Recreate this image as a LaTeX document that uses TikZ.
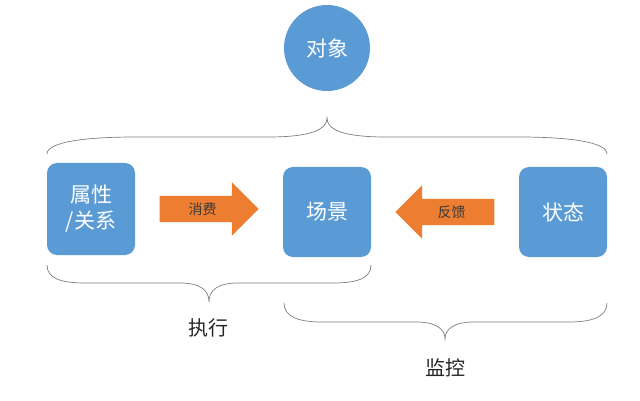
\documentclass[tikz,border=0pt]{standalone}
\usepackage{fontspec}
\setmainfont{Noto Sans CJK SC}
\usetikzlibrary{shapes.arrows}
\definecolor{boxblue}{HTML}{5B9BD5}
\definecolor{arroworange}{HTML}{ED7D31}
\definecolor{bracegray}{HTML}{7F7F7F}
\definecolor{labelgray}{HTML}{3A3A3A}
\tikzset{
	block/.style={fill=boxblue, rounded corners=10pt, minimum width=88pt, minimum height=90pt, inner sep=0pt, text=white, align=center, font=\fontsize{21}{26}\selectfont},
	flow/.style={single arrow, fill=arroworange, text=labelgray, font=\fontsize{14}{16}\selectfont, minimum height=99pt, text height=12pt, text depth=2pt, inner ysep=6pt, inner xsep=2pt, single arrow head extend=13.5pt, single arrow tip angle=90},
	bracket/.style={draw=bracegray, line width=0.7pt},
	caption/.style={text=black!85, font=\fontsize{20}{24}\selectfont}
}

\begin{document}
\begin{tikzpicture}[x=1pt, y=-1pt]
			%%%%% START %%%%%
			
			\fill[white] (0, 0) rectangle (640, 401);
			\useasboundingbox (0, 0) rectangle (640, 401);
			
			\node[circle, fill=boxblue, minimum size=86pt, inner sep=0pt, text=white, font=\fontsize{21}{26}\selectfont] (object) at (327, 48) {对象};
			
			\draw[bracket] (47, 154) .. controls (47, 142) and (85, 137) .. (135, 137) -- (268, 137) .. controls (310, 137) and (327, 130) .. (327, 118) .. controls (327, 130) and (344, 137) .. (386, 137) -- (519, 137) .. controls (569, 137) and (607, 142) .. (607, 154);
			
			\node[block, minimum height=92pt] (attr) at (91, 209) {属性\\/关系};
			\node[block] (scene) at (327, 212) {场景};
			\node[block] (state) at (563, 212) {状态};
			
			\node[flow] (consume) at (202.5, 209) {消费};
			\node[flow, shape border rotate=180] (feedback) at (451.5, 212) {反馈};
			
			\draw[bracket] (47, 265) .. controls (47, 278) and (60, 283) .. (85, 283) -- (180, 283) .. controls (200, 283) and (209, 290) .. (209, 302) .. controls (209, 290) and (218, 283) .. (238, 283) -- (333, 283) .. controls (358, 283) and (371, 278) .. (371, 265);
			\node[caption] (execute) at (208, 328) {执行};
			
			\draw[bracket] (284, 303) .. controls (284, 316) and (297, 322) .. (322, 322) -- (416, 322) .. controls (436, 322) and (445, 329) .. (445, 339) .. controls (445, 329) and (454, 322) .. (474, 322) -- (569, 322) .. controls (594, 322) and (607, 316) .. (607, 303);
			\node[caption] (monitor) at (445, 368) {监控};
			
			%%%%% END %%%%%
\end{tikzpicture}
\end{document}
